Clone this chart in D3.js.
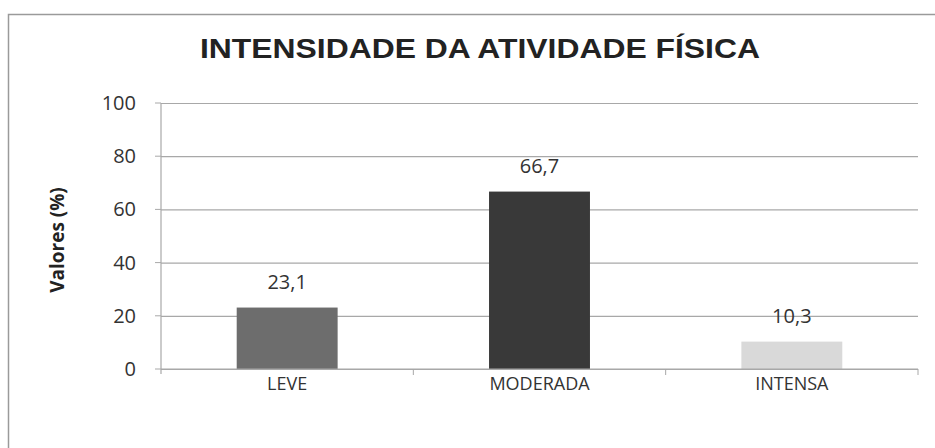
<!DOCTYPE html>
<html><head><meta charset="utf-8">
<script src="https://cdn.jsdelivr.net/npm/d3@7"></script>
<style>body{margin:0;background:#fff}svg{display:block}</style>
</head><body><svg id="c" width="935" height="448"></svg>
<script>
const categories = ["LEVE", "MODERADA", "INTENSA"];
const values = [23.1, 66.7, 10.3];
const valueLabels = ["23,1", "66,7", "10,3"];
const barColors = ["#6d6d6d", "#393939", "#d9d9d9"];
const yTicks = [0, 20, 40, 60, 80, 100];
const title = "INTENSIDADE DA ATIVIDADE FÍSICA";
const yTitle = "Valores (%)";

const svg = d3.select("#c");
const m = {left:161, right:918, top:103, bottom:369};
const font = "Open Sans, sans-serif";
svg.append("rect").attr("x",8.5).attr("y",14.5).attr("width",940).attr("height",450)
  .attr("fill","#fff").attr("stroke","#9a9a9a").attr("stroke-width",1.5);

const x = d3.scaleBand().domain(categories).range([m.left, m.right]).paddingInner(0.6).paddingOuter(0.3);
const y = d3.scaleLinear().domain([0,100]).range([m.bottom, m.top]);

// gridlines + y tick labels
svg.append("g").attr("transform",`translate(${m.left},0)`)
  .call(d3.axisLeft(y).tickValues(yTicks).tickSize(-(m.right-m.left)).tickSizeOuter(0).tickPadding(25))
  .call(g=>g.select(".domain").remove())
  .call(g=>g.selectAll("line").attr("stroke","#a8a8a8").attr("stroke-width",1.2))
  .call(g=>g.selectAll("text").attr("font-family",font).attr("font-size",20).attr("fill","#333"));
// left tick stubs
svg.append("g").selectAll("line").data(yTicks).join("line")
  .attr("x1",m.left-6).attr("x2",m.left).attr("y1",d=>y(d)).attr("y2",d=>y(d)).attr("stroke","#a8a8a8");
svg.append("line").attr("x1",m.left).attr("x2",m.left).attr("y1",m.top).attr("y2",m.bottom+5).attr("stroke","#a8a8a8").attr("stroke-width",1.2);

// bars
svg.append("g").selectAll("rect").data(values).join("rect")
  .attr("x",(d,i)=>x(categories[i])).attr("width",x.bandwidth())
  .attr("y",d=>y(d)).attr("height",d=>y(0)-y(d))
  .attr("fill",(d,i)=>barColors[i]);

// x axis
const xAxis = d3.axisBottom(x).tickSize(0).tickPadding(8);
svg.append("g").attr("transform",`translate(0,${m.bottom})`).call(xAxis)
  .call(g=>g.select(".domain").remove())
  .call(g=>g.selectAll("text").attr("font-family",font).attr("font-size",18).attr("fill","#333"));
svg.append("line").attr("x1",m.left).attr("x2",m.right).attr("y1",m.bottom).attr("y2",m.bottom).attr("stroke","#a8a8a8").attr("stroke-width",1.2);
const bounds = categories.map((c,i)=>m.left+(i+1)*(m.right-m.left)/categories.length);
svg.append("g").selectAll("line").data(bounds).join("line")
  .attr("x1",d=>d).attr("x2",d=>d).attr("y1",m.bottom).attr("y2",m.bottom+6).attr("stroke","#a8a8a8");

// value labels
svg.append("g").selectAll("text").data(values).join("text")
  .attr("x",(d,i)=>x(categories[i])+x.bandwidth()/2).attr("y",d=>y(d)-19)
  .attr("text-anchor","middle").attr("font-family",font).attr("font-size",20).attr("fill","#333")
  .text((d,i)=>valueLabels[i]);

// title
svg.append("text").attr("x",480).attr("y",58).attr("text-anchor","middle")
  .attr("font-family","Liberation Sans Narrow, Liberation Sans, Arial, sans-serif").attr("font-weight","bold")
  .attr("font-size",27).attr("fill","#222")
  .attr("textLength",560).attr("lengthAdjust","spacingAndGlyphs").text(title);
// y title
svg.append("text").attr("transform","translate(64,240) rotate(-90)").attr("text-anchor","middle")
  .attr("font-family",font).attr("font-weight","bold").attr("font-size",19).attr("fill","#222").text(yTitle);
</script></body></html>
